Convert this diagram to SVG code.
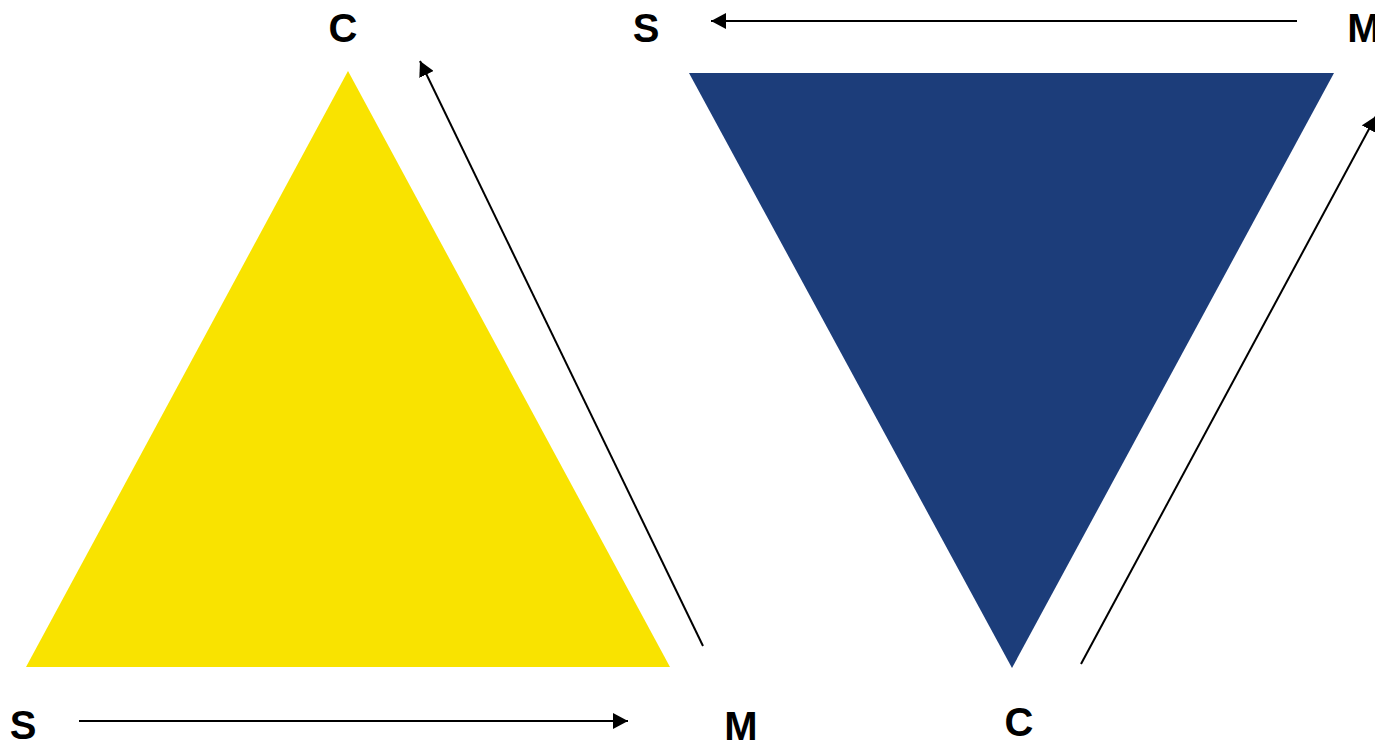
<svg xmlns="http://www.w3.org/2000/svg" width="1375" height="745" viewBox="0 0 1375 745">
<style>
.lbl{font-family:"Liberation Sans",Arial,sans-serif;font-weight:bold;font-size:40px;fill:#000;text-anchor:middle}
.conn{stroke:#000;stroke-width:2;fill:none;marker-end:url(#ah)}
</style>
<defs>
<marker id="ah" markerUnits="userSpaceOnUse" markerWidth="16" markerHeight="16" refX="15" refY="8" orient="auto">
<path d="M0,0 L15,8 L0,16 Z" fill="#000"/>
</marker>
</defs>
<rect width="1375" height="745" fill="#fff"/>
<g id="yellow-triangle"><polygon points="348,71 26,667 670,667" fill="#F9E300"/></g>
<g id="blue-triangle"><polygon points="689,73 1334,73 1012,668" fill="#1C3D7A"/></g>
<g id="label-S-bottom"><text class="lbl" x="23" y="739">S</text></g>
<g id="label-M-bottom"><text class="lbl" x="741" y="740">M</text></g>
<g id="label-C-top"><text class="lbl" x="343" y="42">C</text></g>
<g id="label-S-top"><text class="lbl" x="646" y="42">S</text></g>
<g id="label-M-top"><text class="lbl" x="1364" y="42">M</text></g>
<g id="label-C-bottom"><text class="lbl" x="1019" y="736">C</text></g>
<g id="connectors">
<line class="conn" x1="79" y1="721" x2="628" y2="721"/>
<line class="conn" x1="703" y1="646" x2="420" y2="61"/>
<line class="conn" x1="1297" y1="21" x2="711" y2="21"/>
<line class="conn" x1="1081" y1="664" x2="1376" y2="116"/>
</g>
</svg>
